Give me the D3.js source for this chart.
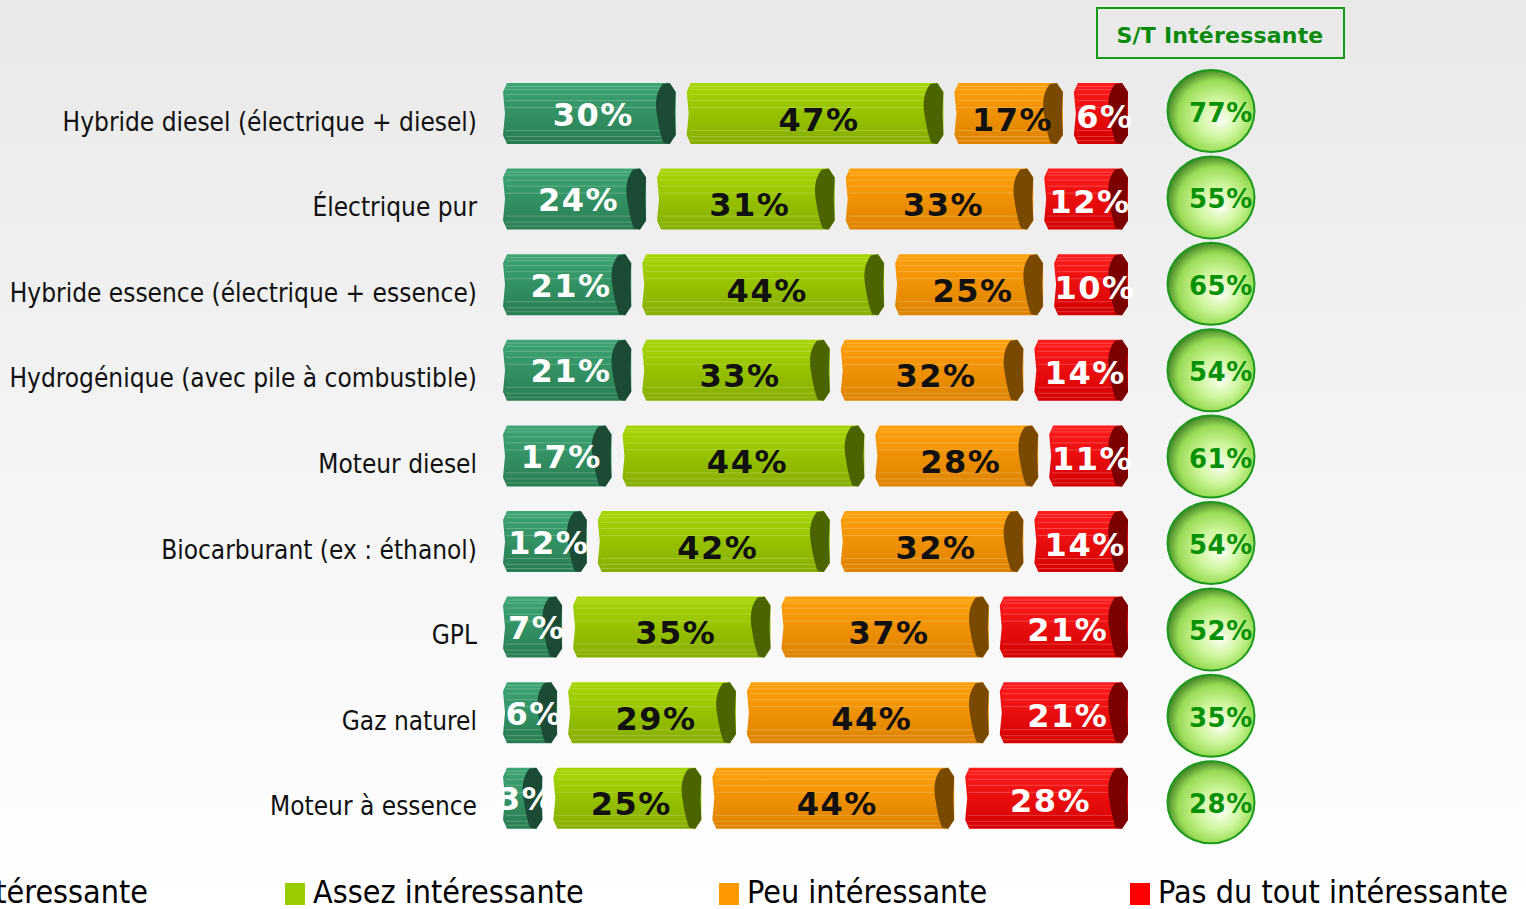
<!DOCTYPE html>
<html>
<head>
<meta charset="utf-8">
<script src="https://cdn.jsdelivr.net/npm/d3@7"></script>
<style>
  body { margin: 0; overflow: hidden; }
  svg { display: block; }
  .cat { font-family: "DejaVu Sans Condensed", "DejaVu Sans", sans-serif; font-stretch: condensed; font-size: 26px; fill: #111; }
  .val { font-family: "DejaVu Sans", sans-serif; font-weight: bold; font-size: 32px; letter-spacing: 1.5px; }
  .st { font-family: "DejaVu Sans", sans-serif; font-weight: bold; font-size: 26px; fill: #079107; letter-spacing: 0.5px; }
  .leg { font-family: "DejaVu Sans Condensed", "DejaVu Sans", sans-serif; font-stretch: condensed; font-size: 32px; fill: #000; }
</style>
</head>
<body>
<div id="chart"></div>
<script>
// categories (top to bottom)
var categories = [
  "Hybride diesel (électrique + diesel)",
  "Électrique pur",
  "Hybride essence (électrique + essence)",
  "Hydrogénique (avec pile à combustible)",
  "Moteur diesel",
  "Biocarburant (ex : éthanol)",
  "GPL",
  "Gaz naturel",
  "Moteur à essence"
];

// series values (%)
var tresInteressante  = [30, 24, 21, 21, 17, 12,  7,  6,  3];
var assezInteressante = [47, 31, 44, 33, 44, 42, 35, 29, 25];
var peuInteressante   = [17, 33, 25, 32, 28, 32, 37, 44, 44];
var pasDuTout         = [ 6, 12, 10, 14, 11, 14, 21, 21, 28];

// S/T Intéressante
var stInteressante = [77, 55, 65, 54, 61, 54, 52, 35, 28];

var seriesNames = ["Très intéressante", "Assez intéressante", "Peu intéressante", "Pas du tout intéressante"];
var seriesValues = [tresInteressante, assezInteressante, peuInteressante, pasDuTout];

var width = 1526, height = 909;

// colours for each series: gradient top, bottom, cap, text, legend
var styles = [
  {top: "#3da574", bot: "#287d52", cap: "#1c4b35", text: "#ffffff", leg: "#339966", dy: 0},
  {top: "#a6d600", bot: "#86ad00", cap: "#4b6400", text: "#111111", leg: "#99cc00", dy: 5},
  {top: "#ffa00a", bot: "#de8200", cap: "#7a4900", text: "#111111", leg: "#ff9900", dy: 5},
  {top: "#ff1c1c", bot: "#d40000", cap: "#7c0000", text: "#ffffff", leg: "#ff0000", dy: 2}
];

var svg = d3.select("#chart").append("svg")
  .attr("width", width)
  .attr("height", height);

var defs = svg.append("defs");

// background gradient
var bg = defs.append("linearGradient").attr("id", "bg")
  .attr("x1", 0).attr("y1", 0).attr("x2", 0).attr("y2", 1);
bg.append("stop").attr("offset", "0%").attr("stop-color", "#e9e9e9");
bg.append("stop").attr("offset", "100%").attr("stop-color", "#ffffff");

svg.append("rect").attr("width", width).attr("height", height).attr("fill", "url(#bg)");

styles.forEach(function(s, i) {
  var g = defs.append("linearGradient").attr("id", "bar" + i)
    .attr("x1", 0).attr("y1", 0).attr("x2", 0).attr("y2", 1);
  g.append("stop").attr("offset", "0%").attr("stop-color", s.top);
  g.append("stop").attr("offset", "100%").attr("stop-color", s.bot);
});

// bubble gradient
var rg = defs.append("radialGradient").attr("id", "bubble")
  .attr("cx", "55%").attr("cy", "55%").attr("r", "55%")
  .attr("fx", "62%").attr("fy", "62%");
rg.append("stop").attr("offset", "0%").attr("stop-color", "#fbfff2");
rg.append("stop").attr("offset", "45%").attr("stop-color", "#cdf59a");
rg.append("stop").attr("offset", "80%").attr("stop-color", "#98dc55");
rg.append("stop").attr("offset", "100%").attr("stop-color", "#4b8a2c");

// clip for the bars area (labels cut on the left)
defs.append("clipPath").attr("id", "plotClip")
  .append("rect").attr("x", 502).attr("y", 0).attr("width", width - 502).attr("height", 860);

// Scales
var y = d3.scaleBand()
  .domain(categories)
  .range([70.7, 70.7 + 85.6 * categories.length]);

// bubbles sit on a slightly wider spacing
var yBub = d3.scaleBand()
  .domain(categories)
  .range([67.8, 67.8 + 86.4 * categories.length]);

var x = d3.scaleLinear().domain([0, 100]).range([0, 494]);

var x0 = 503, capW = 24.5, gap = 11, barH = 61;

function rowCenter(c) { return y(c) + y.bandwidth() / 2; }
function bubCenter(c) { return yBub(c) + yBub.bandwidth() / 2; }

// Category labels
svg.selectAll(".cat")
  .data(categories)
  .enter().append("text")
  .attr("class", "cat")
  .attr("x", 477)
  .attr("y", function(d) { return rowCenter(d) + 17; })
  .attr("text-anchor", "end")
  .text(function(d) { return d; });

// build segment data
var segments = [];
categories.forEach(function(c, r) {
  var cum = 0;
  seriesValues.forEach(function(vals, i) {
    var v = vals[r];
    var xs = x0 + i * (capW + gap) + x(cum);
    segments.push({cat: c, series: i, value: v, xs: xs, xe: xs + x(v) + capW});
    cum += v;
  });
});

var plot = svg.append("g").attr("clip-path", "url(#plotClip)");

function bodyPath(d) {
  var yt = rowCenter(d.cat) - barH / 2, yb = yt + barH, xs = d.xs, xe = d.xe;
  return "M" + (xs + 4) + "," + yt + "L" + (xe - 6) + "," + yt + "L" + xe + "," + (yt + 9) +
    "L" + xe + "," + (yb - 9) + "L" + (xe - 6) + "," + yb + "L" + (xs + 4) + "," + yb +
    "L" + xs + "," + (yb - 9) + "L" + (xs + 2) + "," + (yt + barH / 2) + "L" + xs + "," + (yt + 9) + "Z";
}

function capPath(d) {
  var yt = rowCenter(d.cat) - barH / 2, yb = yt + barH, xe = d.xe;
  return "M" + (xe - 13) + "," + (yt + 1) +
    "Q" + (xe - 22) + "," + (yt + 12) + " " + (xe - 19) + "," + (yt + barH / 2) +
    "Q" + (xe - 16) + "," + (yb - 10) + " " + (xe - 12) + "," + (yb - 1) +
    "L" + (xe - 6) + "," + yb + "L" + xe + "," + (yb - 9) + "L" + (xe - 1) + "," + (yt + barH / 2) +
    "L" + xe + "," + (yt + 9) + "L" + (xe - 6) + "," + yt + "Z";
}

var seg = plot.selectAll(".seg")
  .data(segments)
  .enter().append("g")
  .attr("class", "seg");

seg.append("path")
  .attr("d", bodyPath)
  .attr("fill", function(d) { return "url(#bar" + d.series + ")"; });

// faint horizontal stripes on the bars
var stripes = [3, 6, 11, 17, 24, 47, 53, 57];
seg.each(function(d) {
  var g = d3.select(this);
  var yt = rowCenter(d.cat) - barH / 2;
  stripes.forEach(function(s) {
    g.append("line")
      .attr("x1", d.xs + 3).attr("x2", d.xe - 14)
      .attr("y1", yt + s + 0.5).attr("y2", yt + s + 0.5)
      .attr("stroke", "#ffffff").attr("stroke-opacity", 0.22).attr("stroke-width", 1);
  });
});

seg.append("path")
  .attr("d", capPath)
  .attr("fill", function(d) { return styles[d.series].cap; });

// value labels
plot.selectAll(".val")
  .data(segments)
  .enter().append("text")
  .attr("class", "val")
  .attr("x", function(d) { return (d.xs + d.xe) / 2 + 4; })
  .attr("y", function(d) { return rowCenter(d.cat) + 12 + styles[d.series].dy; })
  .attr("text-anchor", "middle")
  .attr("fill", function(d) { return styles[d.series].text; })
  .text(function(d) { return d.value + "%"; });

// S/T header box
svg.append("rect")
  .attr("x", 1097).attr("y", 8).attr("width", 247).attr("height", 50)
  .attr("fill", "none").attr("stroke", "#159a15").attr("stroke-width", 2);
svg.append("text")
  .attr("x", 1220).attr("y", 43)
  .attr("text-anchor", "middle")
  .attr("font-family", "DejaVu Sans, sans-serif")
  .attr("font-weight", "bold")
  .attr("font-size", "22px")
  .attr("letter-spacing", "0.2px")
  .attr("fill", "#0a8a0a")
  .text("S/T Intéressante");

// bubbles
var cx = 1211, rx = 43.5, ry = 41;
var bub = svg.selectAll(".bub")
  .data(categories)
  .enter().append("g")
  .attr("class", "bub");

bub.each(function(c, i) {
  defs.append("clipPath").attr("id", "bclip" + i)
    .append("ellipse").attr("cx", cx).attr("cy", bubCenter(c)).attr("rx", rx).attr("ry", ry);
});

bub.append("ellipse")
  .attr("cx", cx)
  .attr("cy", function(c) { return bubCenter(c); })
  .attr("rx", rx).attr("ry", ry)
  .attr("fill", "url(#bubble)")
  .attr("stroke", "#1b9a1b").attr("stroke-width", 2);

bub.append("text")
  .attr("class", "st")
  .attr("clip-path", function(c, i) { return "url(#bclip" + i + ")"; })
  .attr("x", 1189)
  .attr("y", function(c) { return bubCenter(c) + 11; })
  .text(function(c, i) { return stInteressante[i] + "%"; });

// legend
var legendX = [null, 285, 719, 1130];
var leg = svg.selectAll(".legitem")
  .data(seriesNames)
  .enter().append("g")
  .attr("class", "legitem");

leg.append("text")
  .attr("class", "leg")
  .attr("y", 903)
  .text(function(d) { return d; });

leg.each(function(d, i) {
  var g = d3.select(this);
  var t = g.select("text");
  var sx;
  if (legendX[i] === null) {
    sx = 148 - t.node().getComputedTextLength() - 28;
  } else {
    sx = legendX[i];
  }
  t.attr("x", sx + 28);
  g.insert("rect", "text")
    .attr("x", sx).attr("y", 883).attr("width", 20).attr("height", 22)
    .attr("fill", styles[i].leg);
});
</script>
</body>
</html>
